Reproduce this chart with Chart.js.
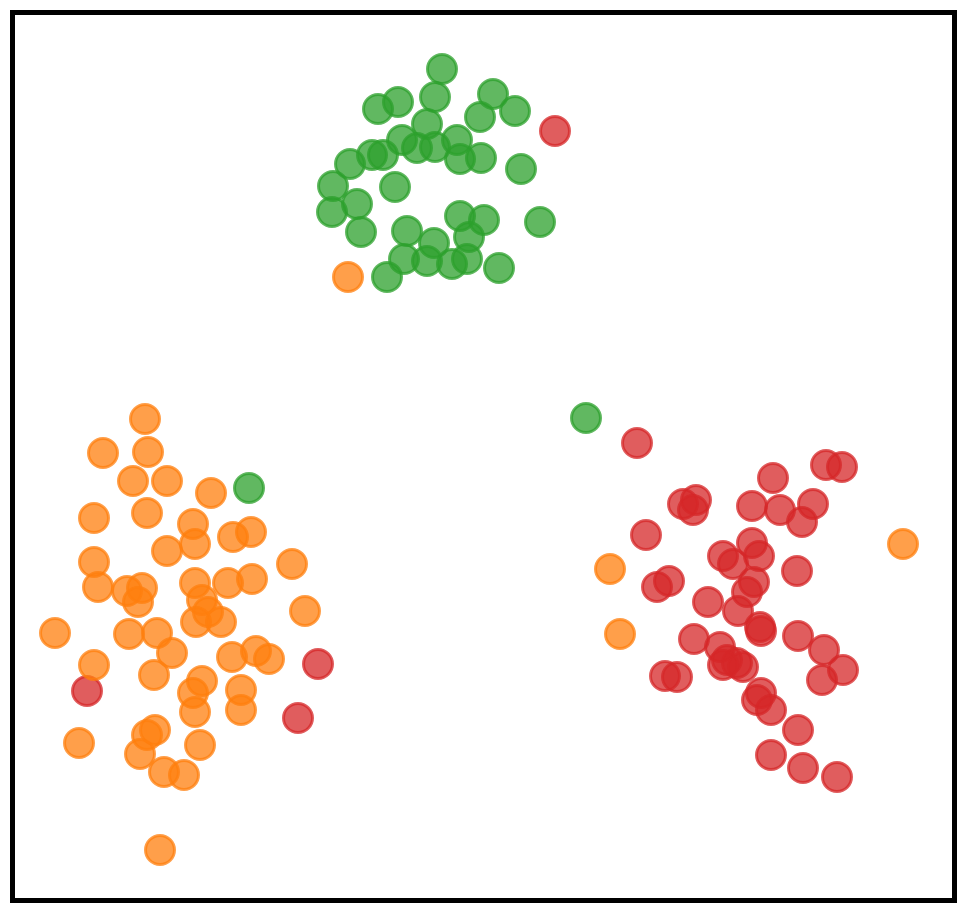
<!DOCTYPE html>
<html>
<head>
<meta charset="utf-8">
<script src="https://cdn.jsdelivr.net/npm/chart.js@4/dist/chart.umd.min.js"></script>
<style>
html,body{margin:0;padding:0;background:#fff;}
canvas{display:block;}
</style>
</head>
<body>
<canvas id="c" width="968" height="914"></canvas>
<script>
// Data (x to the right, y downward in picture units)
const greenX = [442,398,378,435,493,515,480,427,402,457,417,435,372,383,350,460,481,521,333,395,332,357,361,460,484,540,407,469,434,404,427,452,467,499,387,586,249];
const greenY = [69,102,109,97,94,111,117,124,140,140,148,147,155,155,164,159,158,169,186,187,212,204,232,216,220,222,231,237,243,259,261,264,259,268,277,418,488];

const orangeX = [145,103,148,133,167,211,94,147,193,195,167,233,251,94,292,98,127,142,138,195,228,252,202,208,196,221,305,55,129,157,172,94,154,232,256,269,202,193,241,195,241,79,155,147,140,200,164,184,160,348,903,610,620];
const orangeY = [419,453,452,481,481,493,518,513,524,544,551,537,532,562,564,587,591,588,602,583,583,579,600,612,622,622,611,633,634,633,653,665,675,657,651,659,681,693,690,712,710,743,730,735,754,745,772,775,850,277,544,569,634];

const redX = [555,87,318,298,637,773,826,842,683,696,693,752,780,813,802,646,752,723,759,733,797,754,747,657,669,708,738,760,761,694,720,798,824,843,822,727,737,743,723,665,677,761,757,771,798,771,803,837];
const redY = [131,691,664,718,443,478,465,467,504,500,510,506,510,504,522,535,543,556,556,564,571,582,592,587,581,602,611,627,631,639,647,636,650,670,680,660,663,667,665,676,677,693,700,710,730,755,768,777];

const toPts = (xs, ys) => xs.map((x, i) => ({x: x, y: ys[i]}));

const framePlugin = {
  id: 'frame',
  afterDraw(chart) {
    const a = chart.chartArea, ctx = chart.ctx;
    ctx.save();
    ctx.strokeStyle = '#000';
    ctx.lineWidth = 5;
    ctx.strokeRect(a.left, a.top, a.right - a.left, a.bottom - a.top);
    ctx.restore();
  }
};

const mk = (label, pts, rgb) => ({
  label: label,
  data: pts,
  backgroundColor: 'rgba(' + rgb + ',0.75)',
  borderColor: 'rgba(' + rgb + ',0.75)',
  borderWidth: 3,
  pointRadius: 14.5,
  pointHoverRadius: 14.5,
  clip: false
});

new Chart(document.getElementById('c'), {
  type: 'scatter',
  data: {
    datasets: [
      mk('green', toPts(greenX, greenY), '44,160,44'),
      mk('orange', toPts(orangeX, orangeY), '255,127,14'),
      mk('red', toPts(redX, redY), '214,39,40')
    ]
  },
  options: {
    responsive: false,
    animation: false,
    devicePixelRatio: 1,
    layout: {autoPadding: false, padding: {left: 12.5, top: 12.5, right: 13.5, bottom: 13.5}},
    plugins: {legend: {display: false}, tooltip: {enabled: false}},
    scales: {
      x: {type: 'linear', display: false, min: 12.5, max: 954.5},
      y: {type: 'linear', display: false, reverse: true, min: 12.5, max: 900.5}
    }
  },
  plugins: [framePlugin]
});
</script>
</body>
</html>
